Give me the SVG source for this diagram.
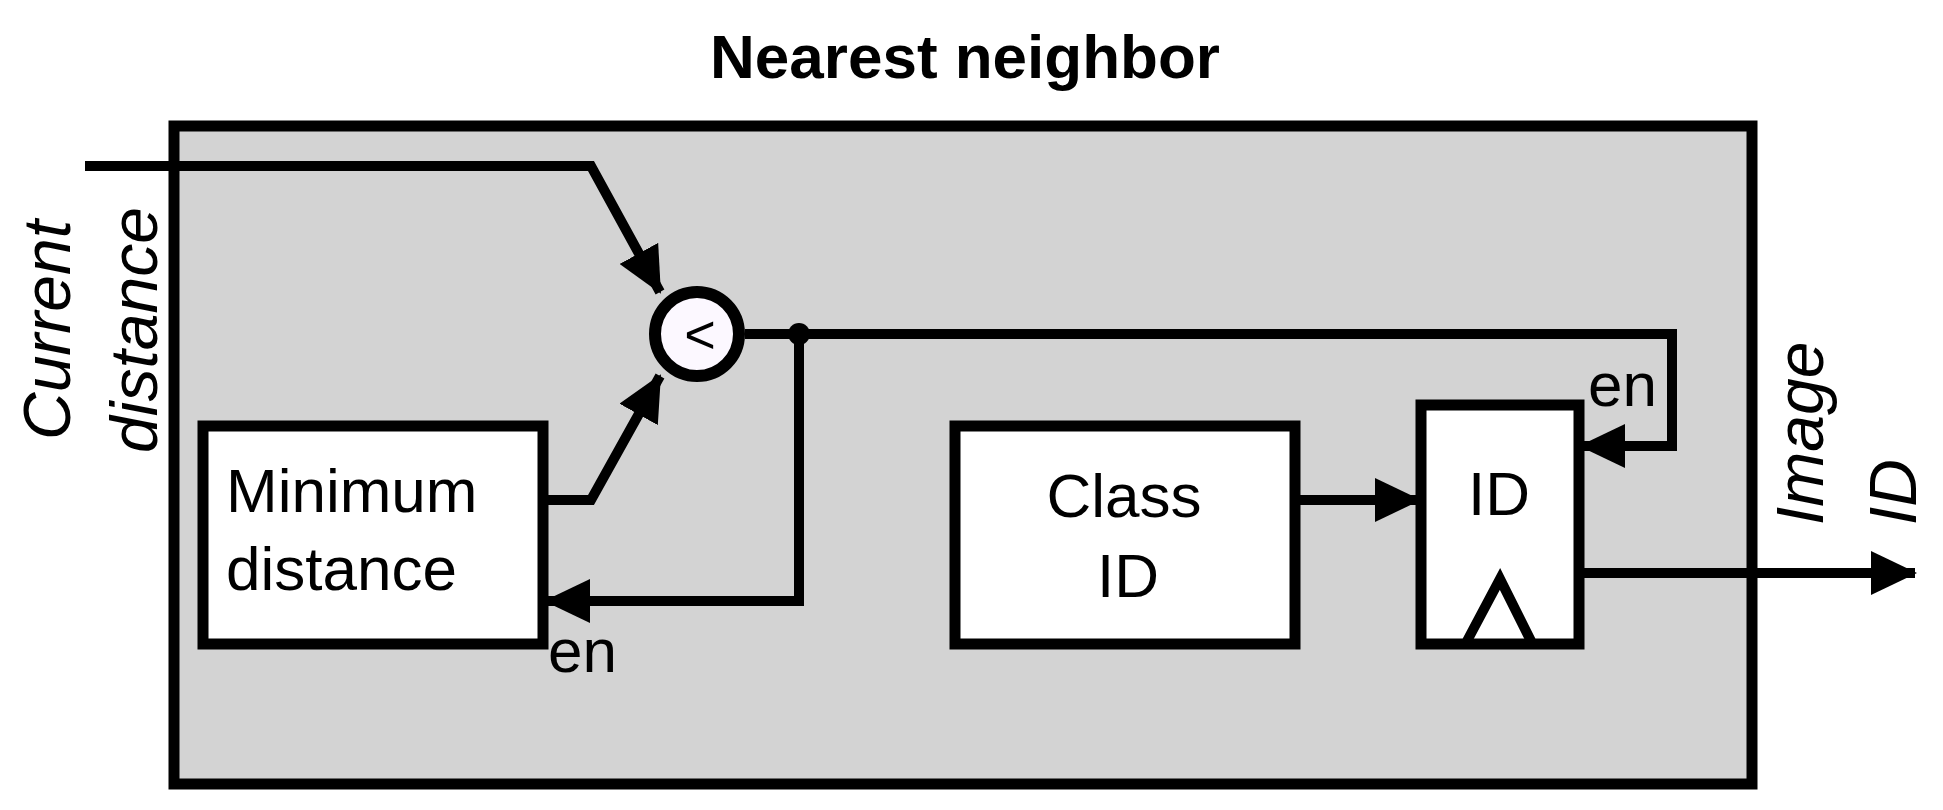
<svg xmlns="http://www.w3.org/2000/svg" width="1943" height="810" viewBox="0 0 1943 810">
<style>
text{font-family:"Liberation Sans",Arial,sans-serif;fill:#000}
.lbl{font-size:62px}
.rl{font-size:66px;font-style:italic}
.w{stroke:#000;stroke-width:10;fill:none}
.box{fill:#fff;stroke:#000;stroke-width:11}
</style>
<defs>
<marker id="ah" markerUnits="userSpaceOnUse" markerWidth="46" markerHeight="44" refX="44" refY="22" orient="auto" viewBox="0 0 46 44">
<path d="M0,0 L46,22 L0,44 Z" fill="#000"/>
</marker>
</defs>
<rect width="1943" height="810" fill="#fff"/>
<text x="965" y="78" text-anchor="middle" font-weight="bold" font-size="62">Nearest neighbor</text>
<g id="outer"><rect x="174" y="126" width="1578" height="658" fill="#d3d3d3" stroke="#000" stroke-width="11"/></g>
<g id="connectors">
<polyline class="w" points="85,166 591,166 660,292" marker-end="url(#ah)"/>
<polyline class="w" points="548,500 591,500 660,376" marker-end="url(#ah)"/>
<polyline class="w" points="745,334 1672,334 1672,446 1581,446" marker-end="url(#ah)"/>
<polyline class="w" points="799,334 799,601 546,601" marker-end="url(#ah)"/>
<polyline class="w" points="1300,500 1419,500" marker-end="url(#ah)"/>
<polyline class="w" points="1584,573 1915,573" marker-end="url(#ah)"/>
<circle cx="799" cy="334" r="11" fill="#000"/>
</g>
<g id="comparator"><circle cx="697" cy="334" r="42" fill="#fcf8ff" stroke="#000" stroke-width="12"/>
<text x="700" y="334" text-anchor="middle" dominant-baseline="central" font-size="54">&lt;</text></g>
<g id="mindist"><rect class="box" x="203" y="426" width="340" height="218"/>
<text class="lbl" x="226" y="512">Minimum</text><text class="lbl" x="226" y="590">distance</text>
<text class="lbl" x="548" y="672">en</text></g>
<g id="classid"><rect class="box" x="955" y="426" width="340" height="218"/>
<text class="lbl" x="1124" y="517" text-anchor="middle">Class</text><text class="lbl" x="1128" y="597" text-anchor="middle">ID</text></g>
<g id="idreg"><rect class="box" x="1421" y="405" width="158" height="239"/>
<text class="lbl" x="1499" y="515" text-anchor="middle">ID</text>
<polyline class="w" points="1467,641 1500,579 1531,641"/>
<text class="lbl" x="1588" y="406">en</text></g>
<g id="labels">
<text class="rl" x="47" y="330" transform="rotate(-90 47 330)" text-anchor="middle" dominant-baseline="central">Current</text>
<text class="rl" x="134" y="330" transform="rotate(-90 134 330)" text-anchor="middle" dominant-baseline="central">distance</text>
<text class="rl" x="1800" y="525" transform="rotate(-90 1800 525)" dominant-baseline="central">Image</text>
<text class="rl" x="1893" y="525" transform="rotate(-90 1893 525)" dominant-baseline="central">ID</text>
</g>
</svg>
